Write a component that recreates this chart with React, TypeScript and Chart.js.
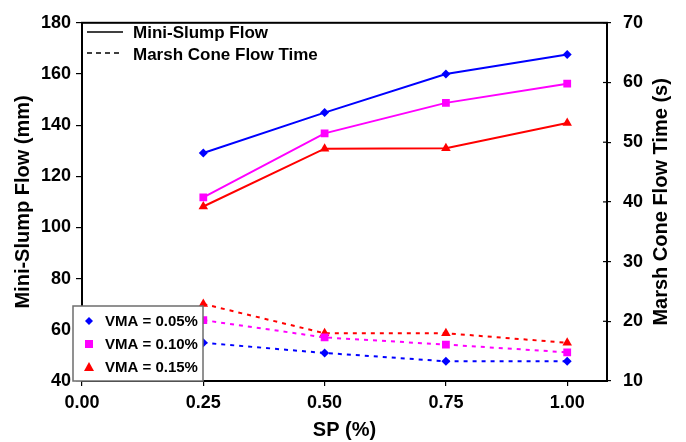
import React, { useEffect, useRef } from "react";
import { Chart, registerables } from "chart.js";

Chart.register(...registerables);

const sp = [0.25, 0.5, 0.75, 1.0];
const xTicks = [0, 0.25, 0.5, 0.75, 1.0];
const vmaLabels = ["VMA = 0.05%", "VMA = 0.10%", "VMA = 0.15%"];
const colors = ["#0000ff", "#ff00ff", "#ff0000"];
const markers = ["rectRot", "rect", "triangle"];
const markerRadius = [4.5, 5.5, 5.5];
const rightTitle = "Marsh Cone Flow Time (s)";

const slumpVma005 = [129.1, 144.9, 160.0, 167.6];
const slumpVma010 = [111.8, 136.8, 148.7, 156.2];
const slumpVma015 = [108.2, 130.8, 131.0, 140.8];

const marshVma005 = [16.4, 14.7, 13.3, 13.3];
const marshVma010 = [20.2, 17.3, 16.1, 14.8];
const marshVma015 = [22.9, 18.0, 18.0, 16.4];

const FONT = "'Liberation Sans', Arial, Helvetica, sans-serif";

const overlayPlugin = {
  id: "overlay",
  afterDraw(chart: any) {
    const { ctx, chartArea } = chart;
    const { left, right, top, bottom } = chartArea;
    ctx.save();
    // frame
    ctx.strokeStyle = "#000";
    ctx.lineWidth = 2;
    ctx.strokeRect(left, top, right - left, bottom - top);
    // inner ticks on right axis
    const y2 = chart.scales.y2;
    ctx.lineWidth = 1.2;
    y2.ticks.forEach((t: any) => {
      const py = y2.getPixelForValue(t.value);
      ctx.beginPath();
      ctx.moveTo(right - 4, py);
      ctx.lineTo(right, py);
      ctx.stroke();
    });
    // right axis title, reading bottom-to-top
    ctx.save();
    ctx.translate(661, (top + bottom) / 2);
    ctx.rotate(-Math.PI / 2);
    ctx.font = `bold 20px ${FONT}`;
    ctx.fillStyle = "#000";
    ctx.textAlign = "center";
    ctx.textBaseline = "middle";
    ctx.fillText(rightTitle, 0, 0);
    ctx.restore();

    // top legend (line styles)
    ctx.font = `bold 17px ${FONT}`;
    ctx.fillStyle = "#000";
    ctx.textBaseline = "middle";
    ctx.textAlign = "left";
    ctx.lineWidth = 1.6;
    ctx.beginPath();
    ctx.moveTo(87, 32);
    ctx.lineTo(123, 32);
    ctx.stroke();
    ctx.fillText("Mini-Slump Flow", 133, 33);
    ctx.setLineDash([5, 4]);
    ctx.beginPath();
    ctx.moveTo(87, 53);
    ctx.lineTo(123, 53);
    ctx.stroke();
    ctx.setLineDash([]);
    ctx.fillText("Marsh Cone Flow Time", 133, 55);

    // bottom-left legend (VMA)
    const bx = 73, by = 306, bw = 130, bh = 75;
    ctx.fillStyle = "#fff";
    ctx.fillRect(bx, by, bw, bh);
    ctx.strokeStyle = "#6e6e6e";
    ctx.lineWidth = 1.5;
    ctx.strokeRect(bx, by, bw, bh);
    ctx.font = `bold 15px ${FONT}`;
    const rows = [321, 344, 367];
    rows.forEach((ry, i) => {
      ctx.fillStyle = colors[i];
      ctx.strokeStyle = colors[i];
      ctx.lineWidth = 1;
      const r = i === 0 ? 4 : 5;
      ctx.beginPath();
      if (i === 0) {
        ctx.moveTo(89, ry - r);
        ctx.lineTo(89 + r, ry);
        ctx.lineTo(89, ry + r);
        ctx.lineTo(89 - r, ry);
        ctx.closePath();
      } else if (i === 1) {
        ctx.rect(89 - 4, ry - 4, 8, 8);
      } else {
        ctx.moveTo(89, ry - 5);
        ctx.lineTo(89 + 5, ry + 4);
        ctx.lineTo(89 - 5, ry + 4);
        ctx.closePath();
      }
      ctx.fill();
      ctx.fillStyle = "#000";
      ctx.fillText(vmaLabels[i], 105, ry + 1);
    });
    ctx.restore();
  },
};

export default function App() {
  const ref = useRef<HTMLCanvasElement | null>(null);

  useEffect(() => {
    document.body.style.margin = "0";
    const slump = [slumpVma005, slumpVma010, slumpVma015];
    const marsh = [marshVma005, marshVma010, marshVma015];
    const datasets: any[] = [];
    [0, 1, 2].forEach((i) => {
      datasets.push({
        label: vmaLabels[i] + " slump",
        data: sp.map((x, j) => ({ x, y: slump[i][j] })),
        yAxisID: "y",
        borderColor: colors[i],
        backgroundColor: colors[i],
        borderWidth: 2,
        pointStyle: markers[i],
        pointRadius: markerRadius[i],
        pointBorderWidth: 0,
        tension: 0,
      });
    });
    [0, 1, 2].forEach((i) => {
      datasets.push({
        label: vmaLabels[i] + " marsh",
        data: sp.map((x, j) => ({ x, y: marsh[i][j] })),
        yAxisID: "y2",
        borderColor: colors[i],
        backgroundColor: colors[i],
        borderWidth: 2,
        borderDash: [4, 5],
        pointStyle: markers[i],
        pointRadius: markerRadius[i],
        pointBorderWidth: 0,
        tension: 0,
      });
    });

    const tickFont = { family: FONT, size: 18, weight: "bold" as const };
    const titleFont = { family: FONT, size: 20, weight: "bold" as const };

    const chart = new Chart(ref.current as HTMLCanvasElement, {
      type: "line",
      data: { datasets },
      plugins: [overlayPlugin],
      options: {
        animation: false,
        responsive: false,
        maintainAspectRatio: false,
        layout: { padding: { top: 17, left: 0, right: 0, bottom: 0 } },
        plugins: { legend: { display: false }, tooltip: { enabled: false } },
        scales: {
          x: {
            type: "linear",
            min: 0,
            max: 1.082,
            afterBuildTicks: (s: any) => {
              s.ticks = xTicks.map((v) => ({ value: v }));
            },
            afterFit: (s: any) => {
              s.height = 61;
            },
            ticks: {
              color: "#000",
              font: tickFont,
              padding: 6,
              maxRotation: 0,
              autoSkip: false,
              callback: (v: any) => Number(v).toFixed(2),
            },
            grid: {
              display: true,
              drawOnChartArea: false,
              drawTicks: true,
              tickLength: 5,
              color: "#000",
              lineWidth: 1.2,
            },
            border: { display: true, color: "#000", width: 2 },
            title: {
              display: true,
              text: "SP (%)",
              color: "#000",
              font: titleFont,
              padding: { top: 0, bottom: 0 },
            },
          },
          y: {
            type: "linear",
            position: "left",
            min: 40,
            max: 180,
            afterBuildTicks: (s: any) => {
              s.ticks = [40, 60, 80, 100, 120, 140, 160, 180].map((v) => ({ value: v }));
            },
            afterFit: (s: any) => {
              s.width = 82;
            },
            ticks: { color: "#000", font: tickFont, padding: 5 },
            grid: {
              display: true,
              drawOnChartArea: false,
              drawTicks: true,
              tickLength: 6,
              color: "#000",
              lineWidth: 1.2,
            },
            border: { display: true, color: "#000", width: 2 },
            title: {
              display: true,
              text: "Mini-Slump Flow (mm)",
              color: "#000",
              font: titleFont,
              padding: { top: 11, bottom: 0 },
            },
          },
          y2: {
            type: "linear",
            position: "right",
            min: 10,
            max: 70,
            afterBuildTicks: (s: any) => {
              s.ticks = [10, 20, 30, 40, 50, 60, 70].map((v) => ({ value: v }));
            },
            afterFit: (s: any) => {
              s.width = 79;
            },
            ticks: { color: "#000", font: tickFont, padding: 12 },
            grid: {
              display: true,
              drawOnChartArea: false,
              drawTicks: true,
              tickLength: 4,
              color: "#000",
              lineWidth: 1.2,
            },
            border: { display: true, color: "#000", width: 2 },
            title: { display: false },
          },
        },
      } as any,
    });
    return () => chart.destroy();
  }, []);

  return (
    <div style={{ width: 686, height: 442, background: "#fff" }}>
      <canvas ref={ref} width={686} height={442} style={{ display: "block" }} />
    </div>
  );
}
